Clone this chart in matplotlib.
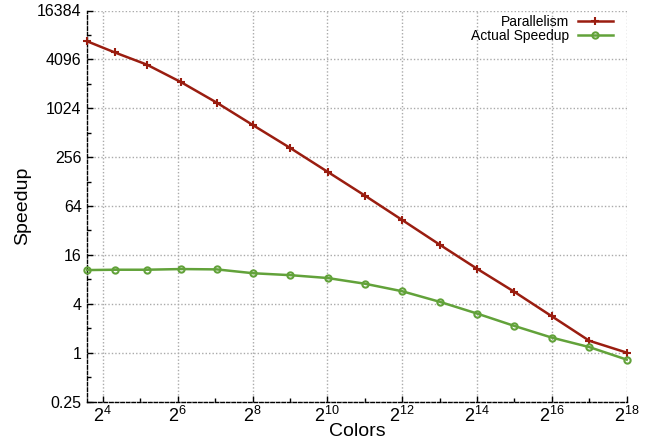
import matplotlib
matplotlib.use("Agg")
import matplotlib.pyplot as plt
from matplotlib.ticker import FixedLocator, NullFormatter, FixedFormatter

plt.rcParams['font.family'] = ['Liberation Sans', 'DejaVu Sans']
plt.rcParams['mathtext.fontset'] = 'custom'
plt.rcParams['mathtext.rm'] = 'Liberation Sans'
plt.rcParams['mathtext.it'] = 'Liberation Sans'

# Data
colors = [12, 20, 36, 68, 132, 260, 516, 1028, 2052, 4100, 8196, 16388,
          32772, 65540, 131076, 262148]
parallelism = [6830, 4980, 3540, 2150, 1200, 630, 331, 169, 86, 43, 21.4,
               10.8, 5.6, 2.8, 1.4, 1.0]
actual_speedup = [10.4, 10.5, 10.5, 10.7, 10.6, 9.5, 9.0, 8.3, 7.06, 5.7,
                  4.23, 3.03, 2.13, 1.53, 1.17, 0.82]

x_major = [2**k for k in range(4, 19, 2)]
x_major_labels = ['$2^{%d}$' % k for k in range(4, 19, 2)]
x_minor = [2**k for k in range(5, 18, 2)]
y_major = [0.25, 1, 4, 16, 64, 256, 1024, 4096, 16384]
y_major_labels = ['0.25', '1', '4', '16', '64', '256', '1024', '4096', '16384']
y_minor = [0.5, 2, 8, 32, 128, 512, 2048, 8192]

fig = plt.figure(figsize=(6.56, 4.45), dpi=100)
ax = fig.add_axes([87.3/656, 1-401.5/445, (626.7-87.3)/656, (401.5-10.5)/445])

red = '#9a1d10'
green = '#62a23a'
ax.plot(colors, parallelism, color=red, lw=1.8, marker='+', ms=5.5, mew=1.5,
        label='Parallelism', clip_on=False, zorder=4)
ax.plot(colors, actual_speedup, color=green, lw=1.8, marker='o', ms=4.5, mew=1.5,
        mfc='none', label='Actual Speedup', clip_on=False, zorder=4)

ax.set_xscale('log', base=2)
ax.set_yscale('log', base=2)
ax.set_xlim(12, 2**18)
ax.set_ylim(0.25, 16384)

ax.xaxis.set_major_locator(FixedLocator(x_major))
ax.xaxis.set_major_formatter(FixedFormatter(x_major_labels))
ax.xaxis.set_minor_locator(FixedLocator(x_minor))
ax.xaxis.set_minor_formatter(NullFormatter())
ax.yaxis.set_major_locator(FixedLocator(y_major))
ax.yaxis.set_major_formatter(FixedFormatter(y_major_labels))
ax.yaxis.set_minor_locator(FixedLocator(y_minor))
ax.yaxis.set_minor_formatter(NullFormatter())

ax.tick_params(which='major', direction='in', length=4, width=1, labelsize=11.5,
               colors='black', pad=4)
ax.tick_params(which='minor', direction='in', length=3, width=1)
ax.tick_params(axis='x', which='major', labelsize=13, pad=3)

ax.grid(True, which='major', color='#aaaaaa', linestyle=(0, (1, 1.5)), lw=1)

for s in ['top', 'right']:
    ax.spines[s].set_visible(False)
for s in ['left', 'bottom']:
    ax.spines[s].set_linestyle((0, (2.5, 1.5)))
    ax.spines[s].set_linewidth(1)
    ax.spines[s].set_color('black')

ax.set_xlabel('Colors', fontsize=14, labelpad=-2)
ax.set_ylabel('Speedup', fontsize=14, labelpad=4)

leg = ax.legend(loc='upper right', bbox_to_anchor=(612.5/656, 1-15/445),
                bbox_transform=fig.transFigure, frameon=False, markerfirst=False,
                fontsize=10, handlelength=2.5, handletextpad=0.6,
                labelspacing=0.0, borderpad=0, borderaxespad=0)
for t in leg.get_texts():
    t.set_ha('right')

fig.savefig('out.png', dpi=100)
